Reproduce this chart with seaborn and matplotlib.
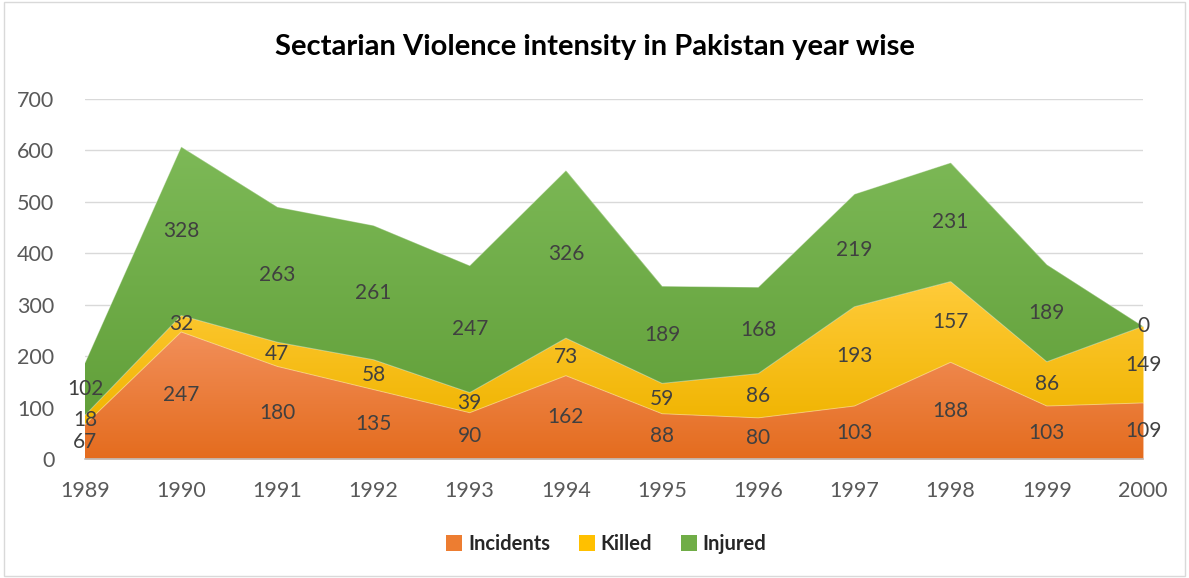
import matplotlib
matplotlib.use('Agg')
import matplotlib.pyplot as plt
import seaborn as sns
import numpy as np
import pandas as pd
from matplotlib.colors import LinearSegmentedColormap

years = [1989, 1990, 1991, 1992, 1993, 1994, 1995, 1996, 1997, 1998, 1999, 2000]
incidents = [67, 247, 180, 135, 90, 162, 88, 80, 103, 188, 103, 109]
killed = [18, 32, 47, 58, 39, 73, 59, 86, 193, 157, 86, 149]
injured = [102, 328, 263, 261, 247, 326, 189, 168, 219, 231, 189, 0]

series_names = ['Incidents', 'Killed', 'Injured']
colors = ['#ED7D31', '#FFC000', '#70AD47']
# light (top) / dark (bottom) shades for the gradient look
grad = [('#F28F5A', '#E46C1E'), ('#FFCB3A', '#F0B400'), ('#7DB957', '#62A03A')]

df = pd.DataFrame({'year': years, 'Incidents': incidents,
                   'Killed': killed, 'Injured': injured})

sns.set_style('white')
plt.rcParams['font.family'] = ['Lato', 'DejaVu Sans']

fig = plt.figure(figsize=(11.89, 5.78), dpi=100)
ax = fig.add_axes([0.0715, 0.2059, 0.8898, 0.6228])

x = np.arange(len(years))
n = len(years)
bottom = np.zeros(n)
for name, col, (c_top, c_bot) in zip(series_names, colors, grad):
    top = bottom + df[name].values
    poly = ax.fill_between(x, bottom, top, color=col, linewidth=0, label=name, zorder=2)
    cmap = LinearSegmentedColormap.from_list(name, [c_bot, c_top])
    ymax = top.max()
    img = ax.imshow(np.linspace(0, 1, 256).reshape(-1, 1), cmap=cmap, aspect='auto',
                    origin='lower', extent=(0, n - 1, bottom.min(), ymax), zorder=2.1,
                    interpolation='bilinear')
    img.set_clip_path(poly.get_paths()[0], transform=ax.transData)
    sns.lineplot(x=x, y=top, ax=ax, color='white', linewidth=0.7, alpha=0.4,
                 zorder=3, legend=False)
    for xi, b, v in zip(x, bottom, df[name].values):
        ax.text(xi, b + v / 2, str(v), ha='center', va='center',
                fontsize=15, color='#404040', zorder=4)
    bottom = top

ax.set_xlim(0, n - 1)
ax.set_ylim(0, 700)
ax.set_yticks(range(0, 701, 100))
ax.set_xticks(x)
ax.set_xticklabels(years)
ax.yaxis.grid(True, color='#D9D9D9', linewidth=1, zorder=0)
ax.set_axisbelow(True)
for s in ['top', 'right', 'left']:
    ax.spines[s].set_visible(False)
ax.spines['bottom'].set_color('#BFBFBF')
ax.spines['bottom'].set_linewidth(1.2)
ax.spines['bottom'].set_zorder(5)
ax.tick_params(axis='x', colors='#BFBFBF', length=7, width=1.2, direction='out',
               labelcolor='#595959', labelsize=15.5, pad=9)
ax.tick_params(axis='y', length=0, labelcolor='#595959', labelsize=15.5, pad=22)
ax.set_xlabel('')
ax.set_ylabel('')

fig.text(0.5, 0.918, 'Sectarian Violence intensity in Pakistan year wise',
         ha='center', va='center', fontsize=21, fontweight='bold', color='black')

handles, labels = ax.get_legend_handles_labels()
fig.legend(handles, labels, loc='center', bbox_to_anchor=(0.51, 0.059), ncol=3,
           frameon=False, prop={'weight': 'bold', 'size': 14.5}, handlelength=0.8,
           handleheight=0.8, handletextpad=0.3, columnspacing=1.4)

fig.patches.append(plt.Rectangle((0.003, 0.003), 0.994, 0.994, transform=fig.transFigure,
                                 fill=False, edgecolor='#D9D9D9', linewidth=1))

fig.savefig('out.png', dpi=100)
